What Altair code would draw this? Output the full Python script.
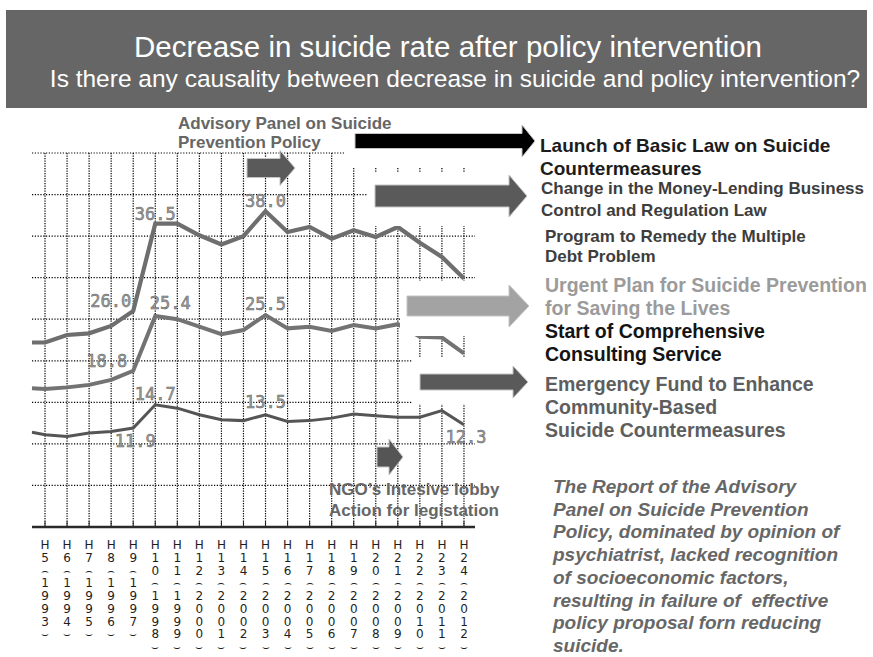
import altair as alt
import pandas as pd

# ---------------- data ----------------
era_labels = ["H5", "H6", "H7", "H8", "H9", "H10", "H11", "H12", "H13", "H14",
              "H15", "H16", "H17", "H18", "H19", "H20", "H21", "H22", "H23", "H24"]
years = [1993, 1994, 1995, 1996, 1997, 1998, 1999, 2000, 2001, 2002,
         2003, 2004, 2005, 2006, 2007, 2008, 2009, 2010, 2011, 2012]
male = [22.2, 23.1, 23.3, 24.2, 26.0, 36.5, 36.5, 35.1, 34.0, 35.0,
        38.0, 35.5, 36.1, 34.7, 35.7, 34.9, 36.1, 34.2, 32.5, 29.9]
total = [16.6, 16.8, 17.1, 17.7, 18.8, 25.4, 25.0, 24.1, 23.2, 23.7,
         25.5, 23.9, 24.1, 23.6, 24.3, 23.9, 24.4, 22.9, 22.8, 20.9]
female = [11.1, 10.9, 11.3, 11.5, 11.9, 14.7, 14.3, 13.5, 12.9, 12.8,
          13.5, 12.7, 12.8, 13.1, 13.6, 13.4, 13.2, 13.2, 14.0, 12.3]
# values read where the lines enter at the left edge of the plot
edge_pos = -0.59
edge_values = {"male": 22.2, "total": 16.7, "female": 11.4}
grid_values = [5, 10, 15, 20, 25, 30, 35, 40, 45]
# labelled points: (series, year index)
labelled = [("male", 4), ("male", 5), ("male", 10),
            ("total", 4), ("total", 5), ("total", 10),
            ("female", 4), ("female", 5), ("female", 10), ("female", 19)]

series = {"male": male, "total": total, "female": female}

# ---------------- helpers ----------------
SANS = "Liberation Sans, Arial, Helvetica, sans-serif"
xs = alt.Scale(domain=[edge_pos, 19.5], range=[32, 475])
ys = alt.Scale(domain=[0, 45], range=[527, 153])
one = pd.DataFrame({"d": [0]})

rows = []
for name, vals in series.items():
    rows.append({"series": name, "i": edge_pos, "v": edge_values[name]})
    for i, v in enumerate(vals):
        rows.append({"series": name, "i": i, "v": v})
df = pd.DataFrame(rows)

layers = []

# banner
layers.append(alt.Chart(one).mark_rect(color="#666666").encode(
    x=alt.value(6), x2=alt.value(867), y=alt.value(10), y2=alt.value(108)))

# grid
layers.append(alt.Chart(pd.DataFrame({"g": grid_values})).mark_rule(
    color="#000000", strokeDash=[1.2, 1.6], strokeWidth=1.2).encode(
    y=alt.Y("g:Q", scale=ys, axis=None), x=alt.value(32), x2=alt.value(475)))
idx_df = pd.DataFrame({"i": list(range(len(era_labels)))})
layers.append(alt.Chart(idx_df).mark_rule(
    color="#000000", strokeDash=[1.2, 1.3], strokeWidth=1.2).encode(
    x=alt.X("i:Q", scale=xs, axis=None), y=alt.value(153), y2=alt.value(527)))
layers.append(alt.Chart(idx_df).mark_rule(color="#222", strokeWidth=1).encode(
    x=alt.X("i:Q", scale=xs, axis=None), y=alt.value(521), y2=alt.value(527)))
layers.append(alt.Chart(one).mark_rule(color="#2a2a2a", strokeWidth=2.5).encode(
    x=alt.value(32), x2=alt.value(475), y=alt.value(527)))

# data lines
for name, col, w in [("male", "#6e6e6e", 4.2), ("total", "#737373", 4.0), ("female", "#555555", 3.0)]:
    layers.append(alt.Chart(df[df.series == name]).mark_line(
        color=col, strokeWidth=w, strokeJoin="miter").encode(
        x=alt.X("i:Q", scale=xs, axis=None),
        y=alt.Y("v:Q", scale=ys, axis=None),
        order="i:Q"))

# white backing boxes of the arrows
for (bx0, bx1, by0, by1) in [(345, 540, 124, 168), (368, 540, 173, 226),
                             (400, 540, 281, 336), (412, 540, 358, 404)]:
    layers.append(alt.Chart(one).mark_rect(color="white").encode(
        x=alt.value(bx0), x2=alt.value(bx1), y=alt.value(by0), y2=alt.value(by1)))

# arrows (x_start, x_tip, y_center, shaft_half, head_half, head_len, fill)
arrows = [
    (355, 535, 141, 7.5, 16, 13, "#000000"),
    (375, 527, 196, 11, 21, 18, "#5a5a5a"),
    (407, 529, 306, 10, 21, 20, "#a3a3a3"),
    (420, 528, 382, 8, 16, 15, "#5a5a5a"),
    (377, 403, 457, 10, 18, 14, "#555555"),
    (247, 295, 168, 9.5, 17.5, 15, "#5a5a5a"),
]
for (ax0, ax1, ay, s, hh, hl, col) in arrows:
    L = ax1 - ax0
    b = L - hl
    path = f"M0,{-s}L{b},{-s}L{b},{-hh}L{L},0L{b},{hh}L{b},{s}L0,{s}Z"
    layers.append(alt.Chart(one).mark_point(
        shape=path, size=4, filled=True, fill=col, opacity=1,
        stroke="#c4c4c4", strokeWidth=1).encode(
        x=alt.value(ax0), y=alt.value(ay)))

# data labels (align, dx, dy) per labelled point
label_style = [("right", -2, -4), ("center", 0, -4), ("center", 0, -4),
               ("right", -6, -4), ("center", 15, -7), ("center", 0, -5),
               ("center", 2, 19), ("center", 0, -5), ("center", 0, -7), ("center", 2, 18)]
for (name, i), (al, dx, dy) in zip(labelled, label_style):
    v = series[name][i]
    ldf = pd.DataFrame({"i": [i], "v": [v], "t": [f"{v:.1f}"]})
    layers.append(alt.Chart(ldf).mark_text(
        font="DejaVu Sans Mono", fontSize=17, fill="#a0a0a0", stroke="#5e5e5e",
        strokeWidth=0.5, align=al, baseline="alphabetic", dx=dx, dy=dy).encode(
        x=alt.X("i:Q", scale=xs, axis=None), y=alt.Y("v:Q", scale=ys, axis=None),
        text="t:N"))

# x axis labels, written vertically
def vertical(era, year):
    num = era[1:]
    d2 = num[1] if len(num) > 1 else "\u00a0"
    return "\n".join(["H", num[0], d2, "\u2322"] + list(str(year)) + ["\u2323"])

ydf = pd.DataFrame({"i": list(range(len(era_labels))),
                    "t": [vertical(e, y) for e, y in zip(era_labels, years)]})
layers.append(alt.Chart(ydf).mark_text(
    font="DejaVu Sans", fontSize=12, color="#1e1e1e",
    baseline="top", align="center", lineBreak="\n", lineHeight=12.75).encode(
    x=alt.X("i:Q", scale=xs, axis=None), y=alt.value(540), text="t:N"))

# annotations: (lines, x, y_top, size, color, weight, style, lineHeight, align)
notes = [
    (["Decrease in suicide rate after policy  intervention"], 448, 34, 29.5, "#ffffff", "normal", "normal", 30, "center"),
    (["Is there any causality between decrease in suicide and policy intervention?"], 455, 68, 24.5, "#ffffff", "normal", "normal", 30, "center"),
    (["Advisory Panel on Suicide", "Prevention Policy"], 178, 116, 17, "#666666", "bold", "normal", 19, "left"),
    (["NGO\u2019s Intesive lobby", "Action for legistation"], 329, 482, 17, "#666666", "bold", "normal", 21, "left"),
    (["Launch of Basic Law on Suicide", "Countermeasures"], 540, 137, 19, "#1c1c1c", "bold", "normal", 23, "left"),
    (["Change in the Money-Lending Business", "Control and Regulation Law"], 541, 181, 17, "#3d3d3d", "bold", "normal", 22, "left"),
    (["Program to Remedy the Multiple", "Debt Problem"], 545, 229, 17, "#3d3d3d", "bold", "normal", 20, "left"),
    (["Urgent Plan for Suicide Prevention", "\u00a0for Saving the Lives"], 545, 277, 19.5, "#9b9b9b", "bold", "normal", 23, "left"),
    (["Start of Comprehensive", "Consulting Service"], 545, 323, 19.5, "#141414", "bold", "normal", 23, "left"),
    (["Emergency Fund to Enhance", "Community-Based", "Suicide Countermeasures"], 545, 376, 19.5, "#5e5e5e", "bold", "normal", 23, "left"),
    (["The Report of the Advisory", "Panel on Suicide Prevention",
      "Policy, dominated by opinion of", "psychiatrist, lacked recognition",
      "of socioeconomic factors,", "resulting in failure of\u00a0 effective",
      "policy proposal forn reducing", "suicide."], 553, 478, 19, "#676767", "bold", "italic", 22.7, "left"),
]
for (lines, tx, ty, fs, col, wt, st, lh, al) in notes:
    layers.append(alt.Chart(one).mark_text(
        text=lines, font=SANS, fontSize=fs, color=col, fontWeight=wt, fontStyle=st,
        lineHeight=lh, align=al, baseline="top").encode(
        x=alt.value(tx), y=alt.value(ty)))

chart = alt.layer(*layers).properties(
    width=873, height=657, padding=0,
    autosize=alt.AutoSizeParams(type="none"),
    background="white",
).configure_view(stroke=None)

chart.save("out.html", embed_options={"renderer": "svg", "actions": False})
